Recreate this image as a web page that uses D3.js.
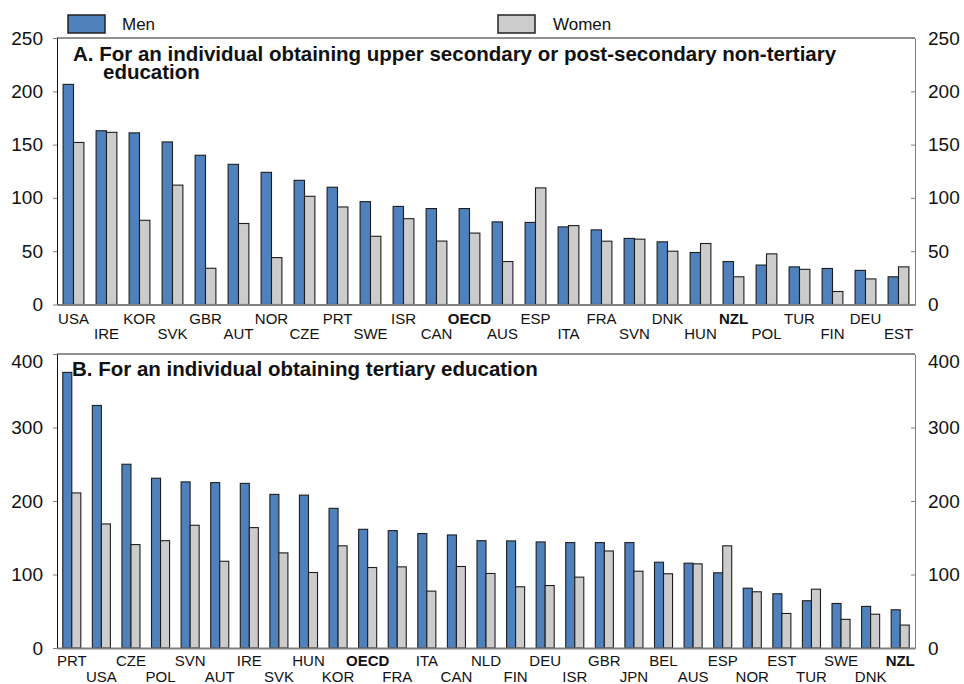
<!DOCTYPE html>
<html>
<head>
<meta charset="utf-8">
<script src="https://cdn.jsdelivr.net/npm/d3@7"></script>
<style>
  html, body { margin: 0; padding: 0; background: #fff; }
  svg { display: block; font-family: "Liberation Sans", Arial, sans-serif; }
</style>
</head>
<body>
<svg id="chart" width="964" height="684"></svg>
<script>
// Panel A: upper secondary or post-secondary non-tertiary education
const catsA = ["USA","IRE","KOR","SVK","GBR","AUT","NOR","CZE","PRT","SWE","ISR","CAN","OECD",
               "AUS","ESP","ITA","FRA","SVN","DNK","HUN","NZL","POL","TUR","FIN","DEU","EST"];
const menA   = [206.5,163,161,152.5,140,131.5,124,116.5,110,96.5,92,90,90,
                77.5,77,72.8,70,62,58.8,48.8,40.3,37,35.3,33.8,32,26];
const womenA = [152,161.5,79,112,34,76,44,101.5,91.5,64,80.5,59.5,67,
                40.3,109.4,74,59.4,61.3,50,57.2,26,47.5,33,12.2,24,35.3];

// Panel B: tertiary education
const catsB = ["PRT","USA","CZE","POL","SVN","AUT","IRE","SVK","HUN","KOR","OECD","FRA","ITA","CAN",
               "NLD","FIN","DEU","ISR","GBR","JPN","BEL","AUS","ESP","NOR","EST","TUR","SWE","DNK","NZL"];
const menB   = [375,330,250,231,226,225,224,209,208,190,161.5,159.7,155.7,153.8,
                146,145.7,144.3,143.4,143.4,143.4,116.7,115.4,102.3,81.4,73.8,64.3,60.6,56.6,52];
const womenB = [211,168.8,140.7,146,167,118,163.8,129.4,102.7,139,109.5,110.4,77.4,110.9,
                101.4,83.3,85,96.4,132,104.5,101,114.5,139,76.5,47,80,39,46,31.2];

const ticksA = [0,50,100,150,200,250];
const ticksB = [0,100,200,300,400];
const seriesNames = ["Men","Women"];
const boldCats = ["OECD","NZL"];

const colors = { Men: "#4F81BD", Women: "#CCCCCC" };
const barStroke = "#1e1e1e";
const grey = "#808080";

const svg = d3.select("#chart");
const left = 57, right = 915;

// Legend
const legendPos = [{x: 68, tx: 122}, {x: 498, tx: 553}];
seriesNames.forEach((name, i) => {
  const g = svg.append("g");
  g.append("rect")
    .attr("x", legendPos[i].x).attr("y", 15)
    .attr("width", 37).attr("height", 18)
    .attr("fill", colors[name])
    .attr("stroke", "#222").attr("stroke-width", 1.5);
  g.append("text")
    .attr("x", legendPos[i].tx).attr("y", 30)
    .attr("font-size", 17).attr("fill", "#111")
    .text(name);
});

function drawPanel(opt) {
  const { cats, men, women, ticks, yTop, yBottom, maxV, pad, labelRows, titleLines } = opt;
  const x = d3.scaleBand().domain(cats).range([left, right])
    .paddingInner(pad).paddingOuter(pad / 2);
  const sub = d3.scaleBand().domain(seriesNames).range([0, x.bandwidth()]);
  const y = d3.scaleLinear().domain([0, maxV]).range([yBottom, yTop]);

  const g = svg.append("g");

  // top border
  g.append("line")
    .attr("x1", left).attr("x2", right)
    .attr("y1", y(maxV)).attr("y2", y(maxV))
    .attr("stroke", "#222").attr("stroke-width", 1);

  // bars
  const rows = cats.map((c, i) => ({ c, Men: men[i], Women: women[i] }));
  const grp = g.selectAll("g.cat").data(rows).join("g")
    .attr("class", "cat")
    .attr("transform", d => `translate(${x(d.c)},0)`);
  grp.selectAll("rect").data(d => seriesNames.map(k => ({ k, v: d[k] }))).join("rect")
    .attr("x", d => sub(d.k))
    .attr("width", sub.bandwidth())
    .attr("y", d => y(d.v))
    .attr("height", d => y(0) - y(d.v))
    .attr("fill", d => colors[d.k])
    .attr("stroke", barStroke)
    .attr("stroke-width", 1.1);

  // left axis
  const la = g.append("g").attr("transform", `translate(${left},0)`)
    .call(d3.axisLeft(y).tickValues(ticks).tickSize(4).tickSizeOuter(0).tickPadding(10)
      .tickFormat(d3.format("d")));
  la.select(".domain").attr("stroke", "#111");
  la.selectAll(".tick line").attr("stroke", grey);
  la.selectAll(".tick text").attr("font-size", 19).attr("fill", "#111")
    .attr("font-family", "Liberation Sans, Arial, sans-serif");

  // right axis
  const ra = g.append("g").attr("transform", `translate(${right},0)`)
    .call(d3.axisRight(y).tickValues(ticks).tickSize(-4).tickSizeOuter(0).tickPadding(13)
      .tickFormat(d3.format("d")));
  ra.select(".domain").attr("stroke", grey);
  ra.selectAll(".tick line").attr("stroke", grey);
  ra.selectAll(".tick text").attr("font-size", 19).attr("fill", "#111")
    .attr("font-family", "Liberation Sans, Arial, sans-serif");

  if (opt.topLabelShift) {
    [la, ra].forEach(a => a.selectAll(".tick text")
      .filter(d => d === maxV).attr("dy", null)
      .attr("y", opt.topLabelShift).attr("dominant-baseline", "middle"));
  }

  // bottom axis with staggered category labels
  const ba = g.append("g").attr("transform", `translate(0,${y(0)})`)
    .call(d3.axisBottom(x).tickSize(0).tickSizeOuter(0));
  ba.select(".domain").attr("stroke", grey).attr("stroke-width", 2);
  ba.selectAll(".tick text")
    .attr("font-size", 15).attr("fill", "#111")
    .attr("font-family", "Liberation Sans, Arial, sans-serif")
    .attr("font-weight", d => boldCats.includes(d) ? "bold" : "normal")
    .attr("y", (d, i) => labelRows[i % 2]);

  // panel title
  const t = g.append("text")
    .attr("font-size", 20.5).attr("font-weight", "bold").attr("fill", "#111");
  titleLines.forEach(l => {
    t.append("tspan").attr("x", l.x).attr("y", l.y).text(l.text);
  });
}

drawPanel({
  cats: catsA, men: menA, women: womenA, ticks: ticksA,
  yTop: 38, yBottom: 304.5, maxV: 250, pad: 0.37,
  labelRows: [8.8, 23.8],
  titleLines: [
    { x: 73, y: 61, text: "A. For an individual obtaining upper secondary or post-secondary non-tertiary" },
    { x: 103, y: 79, text: "education" }
  ]
});

drawPanel({
  cats: catsB, men: menB, women: womenB, ticks: ticksB,
  yTop: 354, yBottom: 648, maxV: 400, pad: 0.39,
  labelRows: [7.5, 23.5], topLabelShift: 8,
  titleLines: [
    { x: 72, y: 376, text: "B. For an individual obtaining tertiary education" }
  ]
});
</script>
</body>
</html>
